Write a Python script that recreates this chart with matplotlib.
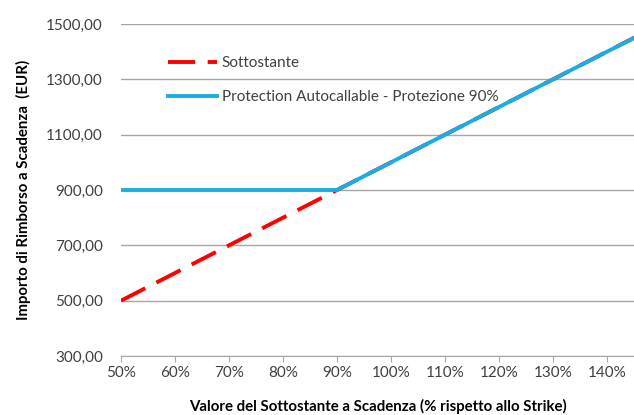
import numpy as np
import matplotlib
matplotlib.use("Agg")
import matplotlib.pyplot as plt
from matplotlib.ticker import FuncFormatter

# dati
livello = [50, 55, 60, 65, 70, 75, 80, 85, 90, 95, 100, 105, 110, 115, 120, 125, 130, 135, 140, 145]
sottostante = [500, 550, 600, 650, 700, 750, 800, 850, 900, 950, 1000, 1050, 1100, 1150, 1200, 1250, 1300, 1350, 1400, 1450]
protection = [900, 900, 900, 900, 900, 900, 900, 900, 900, 950, 1000, 1050, 1100, 1150, 1200, 1250, 1300, 1350, 1400, 1450]

plt.rcParams['font.family'] = ['Lato', 'DejaVu Sans']

fig = plt.figure(figsize=(6.34, 4.15), dpi=100)
ax = fig.add_axes([121/634, 1-356/415, 1-121/634, (356-24)/415])

ax.plot(livello, sottostante, color='#FF0000', lw=2.8, dashes=(7.0, 3.2),
        label='Sottostante', zorder=3)
ax.plot(livello, protection, color='#1AADE4', lw=2.8,
        label='Protection Autocallable - Protezione 90%', zorder=4)

ax.set_xlim(50, 145)
ax.set_ylim(300, 1500)
ax.set_xticks(np.arange(50, 141, 10))
ax.set_yticks(np.arange(300, 1501, 200))
ax.xaxis.set_major_formatter(FuncFormatter(lambda v, p: '%d%%' % v))
ax.yaxis.set_major_formatter(FuncFormatter(lambda v, p: ('%.2f' % v).replace('.', ',')))

ax.grid(axis='y', color='#A6A6A6', lw=1)
ax.set_axisbelow(True)
for s in ['top', 'right', 'left']:
    ax.spines[s].set_visible(False)
ax.spines['bottom'].set_color('#A6A6A6')
ax.tick_params(axis='y', length=0, pad=13, labelsize=11, labelcolor='#404040')
ax.tick_params(axis='x', length=4, color='#A6A6A6', labelsize=11, labelcolor='#404040')

ax.set_xlabel('Valore del Sottostante a Scadenza (% rispetto allo Strike)',
              fontweight='bold', fontsize=10.8, labelpad=13)
ax.set_ylabel('Importo di Rimborso a Scadenza  (EUR)', fontweight='bold', fontsize=10.8, labelpad=11)

leg = ax.legend(loc='upper left', bbox_to_anchor=(0.065, 0.945), frameon=False,
                fontsize=11, handlelength=3.2, labelspacing=1.3, handletextpad=0.3)
for t in leg.get_texts():
    t.set_color('#404040')

fig.savefig('out.png', dpi=100)
